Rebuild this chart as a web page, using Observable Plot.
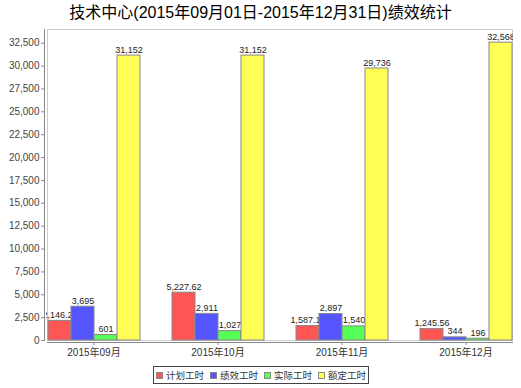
<!DOCTYPE html>
<html><head><meta charset="utf-8">
<script src="https://cdn.jsdelivr.net/npm/d3@7"></script>
<script src="https://cdn.jsdelivr.net/npm/@observablehq/plot@0.6"></script>
<style>
html,body{margin:0;padding:0;background:#fff;overflow:hidden;}
body{font-family:"Liberation Sans",Arial,"Noto Sans CJK SC",sans-serif;}
#wrap{position:relative;width:521px;height:388px;}
#title{position:absolute;left:0;top:0;width:521px;height:26px;line-height:26px;text-align:center;font-size:16px;color:#000;white-space:nowrap;}
#chart{position:absolute;left:0;top:26px;}
#legend{position:absolute;left:153px;top:366px;height:18px;border:1px solid #444;box-sizing:border-box;display:flex;align-items:center;padding:0 2px;font-size:9.5px;color:#333;white-space:nowrap;}
#legend .item{display:flex;align-items:center;margin-right:6px;}
#legend .item:last-child{margin-right:0;}
#legend .sw{width:7px;height:7px;border:1px solid #888;box-sizing:border-box;margin-right:3px;}
</style>
</head><body>
<div id="wrap">
  <div id="title">技术中心(2015年09月01日-2015年12月31日)绩效统计</div>
  <div id="chart"></div>
  <div id="legend"></div>
</div>
<script>
const months = ["2015年09月", "2015年10月", "2015年11月", "2015年12月"];
const seriesNames = ["计划工时", "绩效工时", "实际工时", "额定工时"];
const planned = [2146.25, 5227.62, 1587.17, 1245.56];
const performance = [3695, 2911, 2897, 344];
const actual = [601, 1027, 1540, 196];
const rated = [31152, 31152, 29736, 32568];
const seriesColors = ["#FF5555", "#5555FF", "#55FF55", "#FFFF55"];
const yTicks = [0, 2500, 5000, 7500, 10000, 12500, 15000, 17500, 20000, 22500, 25000, 27500, 30000, 32500];

const seriesValues = [planned, performance, actual, rated];
const table = [];
seriesNames.forEach((s, j) => months.forEach((m, i) => table.push({month: m, series: s, value: seriesValues[j][i]})));
const fmt = d3.format(",");

const seriesMarks = [];
seriesNames.forEach(s => {
  const sub = table.filter(d => d.series === s);
  seriesMarks.push(Plot.barY(sub, {fx: "month", x: "series", y: "value", fill: "series", stroke: "#888", strokeWidth: 1, inset: 0}));
  seriesMarks.push(Plot.text(sub, {fx: "month", x: "series", y: "value", text: d => fmt(d.value), dy: -3, lineAnchor: "bottom", fontSize: 9, fill: "#222"}));
});

const W = 521, H = 337, ML = 46, MR = 8, MT = 3, MB = 23;
const plot = Plot.plot({
  width: W, height: H,
  marginLeft: ML, marginRight: MR, marginTop: MT, marginBottom: MB,
  style: {fontFamily: '"Liberation Sans", Arial, "Noto Sans CJK SC", sans-serif', fontSize: "10px", color: "#444", background: "transparent", overflow: "visible"},
  fx: {domain: months, paddingInner: 0.25, paddingOuter: 0, label: null, axis: null},
  x: {domain: seriesNames, padding: 0, axis: null},
  y: {domain: [0, 34000], axis: null},
  color: {domain: seriesNames, range: seriesColors},
  marks: [
    Plot.frame({stroke: "#ccc", facet: "super"}),
    ...seriesMarks,
    Plot.frame({anchor: "left", dx: -3, stroke: "#888", facet: "super"}),
    Plot.frame({anchor: "bottom", dy: 2, stroke: "#888", facet: "super"}),
    Plot.axisY({ticks: yTicks, tickSize: 3, tickPadding: 2, dx: -3, tickFormat: d => fmt(d), label: null, stroke: "#888", fill: "#444"}),
    Plot.axisFx({anchor: "bottom", tickSize: 3, tickPadding: 3, dy: 2, label: null, stroke: "#888", fill: "#333"})
  ]
});
document.getElementById("chart").appendChild(plot);

// clip value labels to the plotting area (like the original chart)
const ns = "http://www.w3.org/2000/svg";
const svgRoot = plot.tagName.toLowerCase() === "svg" ? plot : plot.querySelector("svg");
const defs = document.createElementNS(ns, "defs");
svgRoot.insertBefore(defs, svgRoot.firstChild);
const rootM = svgRoot.getScreenCTM();
svgRoot.querySelectorAll('g[aria-label="text"]').forEach((g, k) => {
  const m = g.getScreenCTM();
  const ox = m.e - rootM.e, oy = m.f - rootM.f;
  const cp = document.createElementNS(ns, "clipPath");
  cp.setAttribute("id", "lblclip" + k);
  const r = document.createElementNS(ns, "rect");
  r.setAttribute("x", ML - ox);
  r.setAttribute("y", -50 - oy);
  r.setAttribute("width", W - ML - MR);
  r.setAttribute("height", H + 100);
  cp.appendChild(r);
  defs.appendChild(cp);
  g.setAttribute("clip-path", "url(#lblclip" + k + ")");
});

// legend
const legend = document.getElementById("legend");
seriesNames.forEach((s, j) => {
  const it = document.createElement("div"); it.className = "item";
  const sw = document.createElement("div"); sw.className = "sw"; sw.style.background = seriesColors[j];
  const tx = document.createElement("span"); tx.textContent = s;
  it.appendChild(sw); it.appendChild(tx); legend.appendChild(it);
});
</script>
</body></html>
